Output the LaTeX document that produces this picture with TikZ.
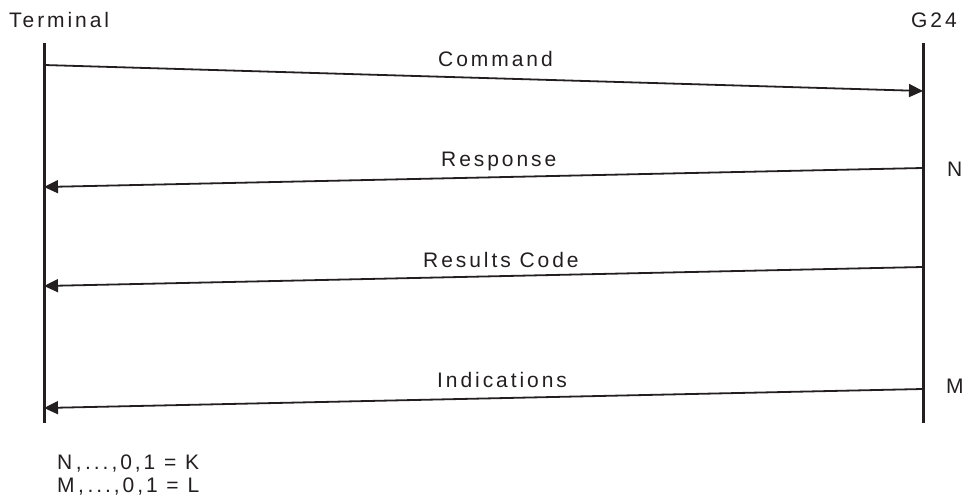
\documentclass[tikz,border=0pt]{standalone}
\usepackage{fontspec}
\setmainfont{Liberation Sans}
\newfontfamily\lblfont[LetterSpace=14]{Liberation Sans}
\usetikzlibrary{arrows.meta}
\definecolor{ink}{HTML}{231F20}
\begin{document}
\begin{tikzpicture}[x=1pt,y=-1pt,
  lifeline/.style={draw=ink,line width=3pt},
  msg/.style={draw=ink,line width=1.8pt,-{Triangle[length=14pt,width=13pt]}},
  lbl/.style={inner sep=0pt,anchor=base west,text=ink,font=\lblfont\fontsize{21}{25}\selectfont}]
\useasboundingbox (0,0) rectangle (971,502);
% headers
\node[lbl] (term) at (9,28) {Terminal};
\node[lbl] (g24) at (911,28) {G24};
% lifelines
\coordinate (lt) at (44,43);
\coordinate (lb) at (44,423);
\coordinate (rt) at (923,43);
\coordinate (rb) at (923,423);
\draw[lifeline] (lt) -- (lb);
\draw[lifeline] (rt) -- (rb);
% message endpoints
\coordinate (c1) at (44,65);   \coordinate (c2) at (923,91);
\coordinate (r1) at (923,168); \coordinate (r2) at (44,187);
\coordinate (s1) at (923,267); \coordinate (s2) at (44,286);
\coordinate (i1) at (923,389); \coordinate (i2) at (44,408);
\draw[msg] (c1) -- (c2);
\draw[msg] (r1) -- (r2);
\draw[msg] (s1) -- (s2);
\draw[msg] (i1) -- (i2);
% labels
\node[lbl] (lc) at (438,67) {Command};
\node[lbl] (lr) at (441,167) {Response};
\node[lbl] (ls) at (423,268) {Results Code};
\node[lbl] (li) at (437,387) {Indications};
\node[lbl] (ln) at (947,177) {N};
\node[lbl] (lm) at (946,393) {M};
\node[lbl] (k) at (57,469) {N\,,\,...,0,1 = K};
\node[lbl] (l) at (57,492) {M\,,\,...,0,1 = L};
\end{tikzpicture}
\end{document}
